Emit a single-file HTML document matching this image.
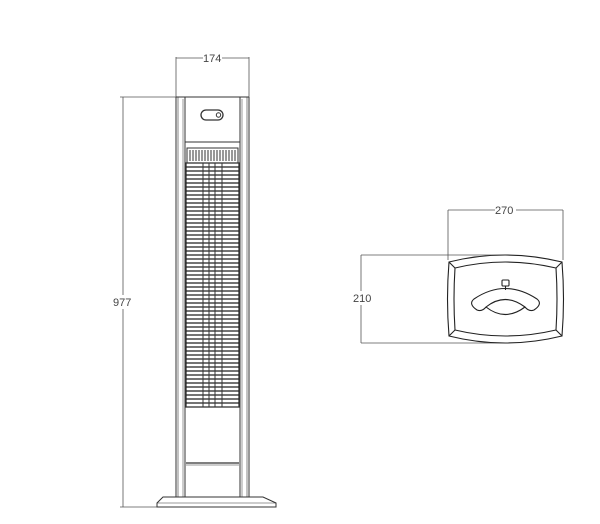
<!DOCTYPE html>
<html><head><meta charset="utf-8"><style>
html,body{margin:0;padding:0;background:#fff;}
svg{display:block;}
text{font-family:"Liberation Sans",sans-serif;font-size:11px;fill:#444;}
</style></head><body>
<svg width="600" height="524" viewBox="0 0 600 524" xmlns="http://www.w3.org/2000/svg">
<g fill="none" stroke="#555" stroke-width="0.8">
<line x1="176" y1="57" x2="176" y2="97"/>
<line x1="249" y1="57" x2="249" y2="97"/>
<line x1="176" y1="58" x2="203" y2="58"/>
<line x1="222" y1="58" x2="249" y2="58"/>
<line x1="123" y1="97" x2="123" y2="295"/>
<line x1="123" y1="309" x2="123" y2="507"/>
<line x1="120" y1="97" x2="176" y2="97"/>
<line x1="120" y1="507" x2="160" y2="507"/>
</g>
<text x="203" y="62">174</text>
<text x="113" y="306">977</text>

<g fill="none" stroke="#333" stroke-width="1">
<line x1="176" y1="97" x2="176" y2="497"/>
<line x1="249" y1="97" x2="249" y2="497"/>
<line x1="178" y1="97" x2="178" y2="497" stroke-width="0.6"/>
<line x1="247" y1="97" x2="247" y2="497" stroke-width="0.6"/>
<line x1="176" y1="97" x2="249" y2="97"/>
<line x1="185" y1="97" x2="185" y2="497"/>
<line x1="240" y1="97" x2="240" y2="497"/>
<line x1="183" y1="99" x2="183" y2="497" stroke-width="0.5"/>
<line x1="242" y1="99" x2="242" y2="497" stroke-width="0.5"/>
<line x1="185" y1="142" x2="240" y2="142"/>
<rect x="201" y="110" width="22" height="10" rx="5" stroke-width="1.3"/>
<circle cx="218.5" cy="115" r="2.2" stroke-width="1"/>
<rect x="187" y="148" width="51" height="15"/>
<rect x="186" y="163" width="53" height="244" stroke-width="1.3"/>
<line x1="185" y1="407" x2="240" y2="407"/>
<line x1="186" y1="463" x2="239" y2="463" stroke-width="1.2"/>
<line x1="186" y1="465" x2="239" y2="465" stroke-width="0.5"/>
<path d="M163 497 L263 497 L276 503 L276 507 L157 507 L157 503 Z"/>
<line x1="157" y1="503" x2="276" y2="503" stroke-width="0.6"/>
</g>
<g stroke="#333" stroke-width="1">
<line x1="190" y1="150" x2="190" y2="161"/><line x1="193" y1="150" x2="193" y2="161"/><line x1="196" y1="150" x2="196" y2="161"/><line x1="199" y1="150" x2="199" y2="161"/><line x1="202" y1="150" x2="202" y2="161"/><line x1="205" y1="150" x2="205" y2="161"/><line x1="208" y1="150" x2="208" y2="161"/><line x1="211" y1="150" x2="211" y2="161"/><line x1="214" y1="150" x2="214" y2="161"/><line x1="217" y1="150" x2="217" y2="161"/><line x1="220" y1="150" x2="220" y2="161"/><line x1="223" y1="150" x2="223" y2="161"/><line x1="226" y1="150" x2="226" y2="161"/><line x1="229" y1="150" x2="229" y2="161"/><line x1="232" y1="150" x2="232" y2="161"/><line x1="235" y1="150" x2="235" y2="161"/>
</g>
<g stroke="#222" stroke-width="1.2" id="grill"></g>
<g stroke="#333" stroke-width="1">
<line x1="203" y1="163" x2="203" y2="407"/><line x1="209" y1="163" x2="209" y2="407"/><line x1="215" y1="163" x2="215" y2="407"/><line x1="222" y1="163" x2="222" y2="407"/>
</g>

<g fill="none" stroke="#555" stroke-width="0.8">
<line x1="448" y1="210" x2="448" y2="260"/>
<line x1="563" y1="210" x2="563" y2="260"/>
<line x1="448" y1="210" x2="495" y2="210"/>
<line x1="516" y1="210" x2="563" y2="210"/>
<line x1="361" y1="255" x2="361" y2="291"/>
<line x1="361" y1="305" x2="361" y2="343"/>
<line x1="361" y1="255" x2="505" y2="255"/>
<line x1="361" y1="343" x2="505" y2="343"/>
</g>
<text x="495" y="214">270</text>
<text x="353" y="302">210</text>
<g fill="none" stroke="#222" stroke-width="1.1">
<path d="M449 262 Q505 248 562 262 Q565 299 562 336 Q505 350 449 336 Q446 299 449 262 Z"/>
<path d="M455 268 Q505 256 556 268 Q558 299 556 330 Q505 342 455 330 Q453 299 455 268 Z"/>
<line x1="449" y1="262" x2="455" y2="268"/><line x1="562" y1="262" x2="556" y2="268"/>
<line x1="449" y1="336" x2="455" y2="330"/><line x1="562" y1="336" x2="556" y2="330"/>
<path d="M477 310 Q468 304 474 299 Q505 278 537 299 Q543 304 534 310 Q529 312 525 307 Q505 292 486 307 Q482 312 477 310 Z"/>
<path d="M486 307 Q505 322 525 307"/>
<rect x="502" y="280" width="7" height="6" rx="1"/>
<line x1="505.5" y1="286" x2="505.5" y2="290"/>
</g>
</svg>
<script>
var g=document.getElementById('grill'),s='';
for(var y=167;y<405;y+=4){s+='<line x1="186" y1="'+y+'" x2="239" y2="'+y+'"/>';}
g.innerHTML=s;
</script>
</body></html>
